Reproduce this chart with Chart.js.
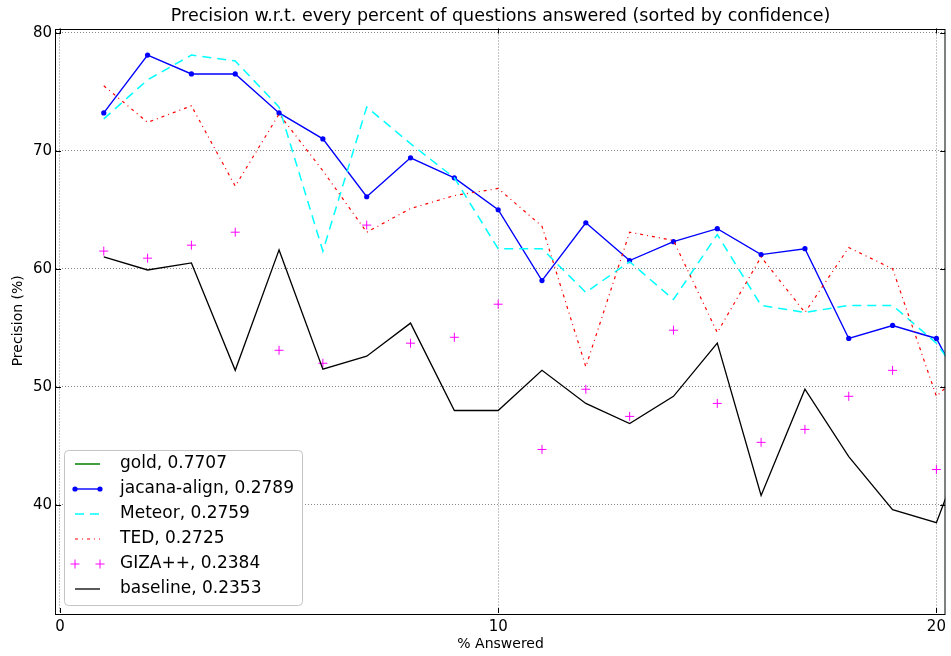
<!DOCTYPE html>
<html>
<head>
<meta charset="utf-8">
<title>Precision vs % answered</title>
<script src="https://cdn.jsdelivr.net/npm/chart.js@4.4.1/dist/chart.umd.min.js"></script>
<style>
  html, body { margin: 0; padding: 0; background: #fff; }
  #wrap { width: 951px; height: 656px; }
</style>
</head>
<body>
<div id="wrap"><canvas id="precision-chart" width="951" height="656"></canvas></div>
<script>
// percent of questions answered (the 21st point sits just past the right edge)
const pctAnswered = [1, 2, 3, 4, 5, 6, 7, 8, 9, 10, 11, 12, 13, 14, 15, 16, 17, 18, 19, 20, 21];

const goldPrecision    = [100, 100, 100, 100, 100, 100, 100, 100, 100, 100, 100, 100, 100, 100, 100, 100, 100, 100, 100, 100, 100];
const jacanaPrecision  = [73.2, 78.1, 76.5, 76.5, 73.2, 71.0, 66.1, 69.4, 67.7, 65.0, 59.0, 63.9, 60.7, 62.3, 63.4, 61.2, 61.7, 54.1, 55.2, 54.1, 47.1];
const meteorPrecision  = [72.7, 76.0, 78.1, 77.6, 73.7, 61.5, 73.7, 70.6, 67.7, 61.7, 61.7, 58.0, 60.6, 57.4, 62.9, 56.9, 56.3, 56.9, 56.9, 53.7, 48.5];
const tedPrecision     = [75.5, 72.4, 73.8, 67.0, 73.1, 68.3, 63.1, 65.1, 66.2, 66.8, 63.6, 51.7, 63.1, 62.4, 54.6, 61.0, 56.3, 61.8, 60.0, 49.2, 52.7];
const gizaPrecision    = [61.5, 60.9, 62.0, 63.1, 53.1, 52.0, 63.7, 53.7, 54.2, 57.0, 44.7, 49.8, 47.5, 54.8, 48.6, 45.3, 46.4, 49.2, 51.4, 43.0];
const baselinePrecision = [61.0, 59.9, 60.5, 51.4, 61.6, 51.5, 52.6, 55.4, 48.0, 48.0, 51.4, 48.6, 46.9, 49.2, 53.7, 40.8, 49.8, 44.1, 39.6, 38.5, 48.3];

const seriesNames  = ['gold', 'jacana-align', 'Meteor', 'TED', 'GIZA++', 'baseline'];
const seriesScores = [0.7707, 0.2789, 0.2759, 0.2725, 0.2384, 0.2353];

const xTickValues = [0, 10, 20];
const yTickValues = [40, 50, 60, 70, 80];

const FONT = 'DejaVu Sans';

function toPoints(values) {
  return values.map((v, i) => ({ x: pctAnswered[i], y: v }));
}

function seriesLabel(i) {
  return seriesNames[i] + ', ' + seriesScores[i].toFixed(4);
}

// box + inward tick marks on all four sides
const axesFrame = {
  id: 'axesFrame',
  afterDatasetsDraw(chart) {
    const { ctx, chartArea: a, scales } = chart;
    ctx.save();
    ctx.strokeStyle = '#000';
    ctx.lineWidth = 1;
    ctx.strokeRect(Math.round(a.left) - 0.5, Math.round(a.top) + 0.5, Math.round(a.right - a.left) + 0.5, Math.round(a.bottom - a.top));
    ctx.beginPath();
    const tick = 5;
    for (const v of xTickValues) {
      const px = Math.round(scales.x.getPixelForValue(v)) + 0.5;
      ctx.moveTo(px, a.bottom); ctx.lineTo(px, a.bottom - tick);
      ctx.moveTo(px, a.top); ctx.lineTo(px, a.top + tick);
    }
    for (const v of yTickValues) {
      const py = Math.round(scales.y.getPixelForValue(v)) + 0.5;
      ctx.moveTo(a.left, py); ctx.lineTo(a.left + tick, py);
      ctx.moveTo(a.right, py); ctx.lineTo(a.right - tick, py);
    }
    ctx.stroke();
    ctx.restore();
  }
};

// legend drawn inside the plot, lower left
const insetLegend = {
  id: 'insetLegend',
  afterDraw(chart) {
    const { ctx } = chart;
    const box = { x: 64.5, y: 450.5, w: 238, h: 155 };
    ctx.save();
    ctx.fillStyle = '#fff';
    ctx.strokeStyle = '#c4c4c4';
    ctx.lineWidth = 1;
    ctx.beginPath();
    ctx.roundRect(box.x, box.y, box.w, box.h, 4);
    ctx.fill();
    ctx.stroke();

    const x0 = 75, x1 = 100, textX = 120;
    chart.data.datasets.forEach((ds, i) => {
      const y = 464 + i * 25;
      if (ds.showLine !== false) {
        ctx.save();
        ctx.strokeStyle = ds.borderColor;
        ctx.lineWidth = ds.borderWidth;
        ctx.setLineDash(ds.borderDash || []);
        ctx.beginPath();
        ctx.moveTo(x0, y); ctx.lineTo(x1, y);
        ctx.stroke();
        ctx.restore();
      }
      if (ds.pointRadius > 0) {
        for (const px of [x0, x1]) {
          ctx.fillStyle = ds.pointBackgroundColor;
          ctx.strokeStyle = ds.borderColor;
          ctx.lineWidth = ds.pointBorderWidth || 1;
          ctx.beginPath();
          if (ds.pointStyle === 'cross') {
            ctx.moveTo(px - ds.pointRadius, y); ctx.lineTo(px + ds.pointRadius, y);
            ctx.moveTo(px, y - ds.pointRadius); ctx.lineTo(px, y + ds.pointRadius);
            ctx.stroke();
          } else {
            ctx.arc(px, y, ds.pointRadius, 0, Math.PI * 2);
            ctx.fill();
          }
        }
      }
      ctx.fillStyle = '#000';
      ctx.font = '17px "' + FONT + '"';
      ctx.textBaseline = 'middle';
      ctx.textAlign = 'left';
      ctx.fillText(ds.label, textX, y);
    });
    ctx.restore();
  }
};

const datasets = [
  { label: seriesLabel(0), data: toPoints(goldPrecision), borderColor: '#008000', borderWidth: 1.5,
    pointRadius: 0, order: 6 },
  { label: seriesLabel(1), data: toPoints(jacanaPrecision), borderColor: '#0000ff', borderWidth: 1.4,
    pointRadius: 2.6, pointStyle: 'circle', pointBackgroundColor: '#0000ff', pointBorderWidth: 0, order: 5 },
  { label: seriesLabel(2), data: toPoints(meteorPrecision), borderColor: '#00ffff', borderWidth: 1.5,
    borderDash: [9, 6], pointRadius: 0, order: 4 },
  { label: seriesLabel(3), data: toPoints(tedPrecision), borderColor: '#ff0000', borderWidth: 1.2,
    borderDash: [3, 4, 1, 4], pointRadius: 0, order: 3 },
  { label: seriesLabel(4), data: toPoints(gizaPrecision), borderColor: '#ff00ff', showLine: false,
    pointRadius: 4.5, pointStyle: 'cross', pointBackgroundColor: '#ff00ff', pointBorderColor: '#ff00ff',
    pointBorderWidth: 1, order: 2 },
  { label: seriesLabel(5), data: toPoints(baselinePrecision), borderColor: '#000000', borderWidth: 1.3,
    pointRadius: 0, order: 1 }
];

const gridDefaults = { color: '#888', lineWidth: 1, drawTicks: false };

new Chart(document.getElementById('precision-chart').getContext('2d'), {
  type: 'line',
  data: { datasets },
  options: {
    responsive: false,
    animation: false,
    devicePixelRatio: 1,
    layout: { padding: { left: 0, right: 2, top: 0, bottom: 0 } },
    plugins: {
      legend: { display: false },
      tooltip: { enabled: false },
      title: {
        display: true,
        fullSize: false,
        text: 'Precision w.r.t. every percent of questions answered (sorted by confidence)',
        color: '#000',
        font: { family: FONT, size: 17.5, weight: 'normal' },
        padding: { top: 6, bottom: 1.5 }
      }
    },
    scales: {
      x: {
        type: 'linear',
        min: -0.09,
        max: 20.2,
        afterBuildTicks: s => { s.ticks = xTickValues.map(v => ({ value: v })); },
        afterFit: s => { s.height = 43; },
        grid: gridDefaults,
        border: { display: false, dash: [1, 2] },
        ticks: { color: '#000', padding: 5, font: { family: FONT, size: 15 }, maxRotation: 0 },
        title: { display: true, text: '% Answered', color: '#000', font: { family: FONT, size: 14 }, padding: { top: 0, bottom: 3 } }
      },
      y: {
        min: 30.85,
        max: 80.35,
        afterBuildTicks: s => { s.ticks = yTickValues.map(v => ({ value: v })); },
        afterFit: s => { s.width = 56; },
        grid: gridDefaults,
        border: { display: false, dash: [1, 2] },
        ticks: { color: '#000', padding: 4, font: { family: FONT, size: 15 } },
        title: { display: true, text: 'Precision (%)', color: '#000', font: { family: FONT, size: 14 }, padding: { top: 10, bottom: 0 } }
      }
    }
  },
  plugins: [axesFrame, insetLegend]
});
</script>
</body>
</html>
